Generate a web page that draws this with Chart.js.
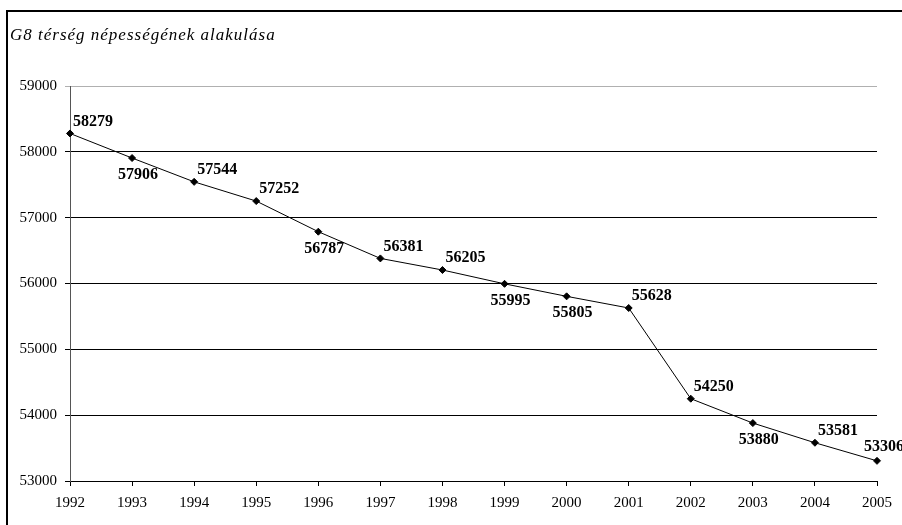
<!DOCTYPE html>
<html lang="hu">

<head>
    <meta charset="UTF-8">
    <script src="https://cdn.jsdelivr.net/npm/chart.js"></script>
    <title>G8 térség</title>
    <style>
        body { margin: 0; background: #fff; }
        #wrap { width: 902px; height: 525px; }
    </style>
</head>

<body>
    <div id="wrap"><canvas id="chart"></canvas></div>
</body>

<script>
    // data
    const years = ['1992', '1993', '1994', '1995', '1996', '1997', '1998', '1999', '2000', '2001', '2002', '2003', '2004', '2005'];
    const population = [58279, 57906, 57544, 57252, 56787, 56381, 56205, 55995, 55805, 55628, 54250, 53880, 53581, 53306];
    const yMin = 53000;
    const yMax = 59000;
    const yStep = 1000;
    const titleText = 'G8 térség népességének alakulása';

    // where each value label sits: a = above right, b = below, e = end
    const labelPos = ['a', 'b', 'a', 'a', 'b', 'a', 'a', 'b', 'b', 'a', 'a', 'b', 'a', 'e'];

    const serif = "'Liberation Serif', 'DejaVu Serif', serif";

    // frame lines + title (drawn by hand so the letter spacing can match)
    const frame = {
        id: 'frame',
        beforeDraw(chart) {
            let ctx = chart.ctx;
            ctx.save();
            ctx.fillStyle = '#000';
            ctx.fillRect(6, 10, 902, 2);
            ctx.fillRect(6, 10, 2, 525);
            ctx.font = 'italic 17px ' + serif;
            ctx.letterSpacing = '1px';
            ctx.textAlign = 'left';
            ctx.textBaseline = 'alphabetic';
            ctx.fillText(titleText, 10, 40);
            ctx.restore();
        }
    };

    const valueLabels = {
        id: 'valueLabels',
        afterDatasetsDraw(chart) {
            let ctx = chart.ctx;
            let meta = chart.getDatasetMeta(0);
            ctx.save();
            ctx.font = 'bold 16px ' + serif;
            ctx.fillStyle = '#000';
            ctx.textBaseline = 'middle';
            meta.data.forEach(function (pt, i) {
                let txt = String(population[i]);
                let pos = labelPos[i];
                if (pos == 'a') {
                    ctx.textAlign = 'left';
                    ctx.fillText(txt, pt.x + 3, pt.y - 12);
                } else if (pos == 'b') {
                    ctx.textAlign = 'center';
                    ctx.fillText(txt, pt.x + 6, pt.y + 17);
                } else {
                    ctx.textAlign = 'left';
                    ctx.fillText(txt, pt.x - 13, pt.y - 14);
                }
            });
            ctx.restore();
        }
    };

    let myChart = document.getElementById('chart').getContext('2d');
    let line = new Chart(myChart, {
        type: 'line',
        data: {
            labels: years,
            datasets: [{
                data: population,
                borderColor: '#000',
                borderWidth: 1,
                backgroundColor: '#000',
                pointStyle: 'rectRot',
                pointRadius: 3.5,
                pointBackgroundColor: '#000',
                pointBorderColor: '#000',
                tension: 0,
                fill: false
            }]
        },
        options: {
            responsive: true,
            maintainAspectRatio: false,
            animation: false,
            devicePixelRatio: 1,
            layout: {
                padding: { left: 10, right: 25, top: 86, bottom: 0 }
            },
            plugins: {
                legend: { display: false },
                tooltip: { enabled: false },
                title: { display: false }
            },
            scales: {
                x: {
                    type: 'category',
                    offset: false,
                    grid: {
                        drawOnChartArea: false,
                        drawTicks: true,
                        tickLength: 5,
                        color: '#000'
                    },
                    border: { color: '#000', width: 1 },
                    ticks: {
                        color: '#000',
                        font: { family: serif, size: 15 },
                        padding: 8,
                        maxRotation: 0,
                        autoSkip: false
                    },
                    afterFit: function (s) { s.height = 44; }
                },
                y: {
                    min: yMin,
                    max: yMax,
                    grid: {
                        color: function (c) { return c.tick && c.tick.value == yMax ? '#b0b0b0' : '#000'; },
                        tickLength: 5,
                        drawTicks: true
                    },
                    border: { color: '#555', width: 1 },
                    ticks: {
                        stepSize: yStep,
                        color: '#000',
                        font: { family: serif, size: 15 },
                        padding: 8,
                        callback: function (v) { return String(v); }
                    },
                    afterFit: function (s) { s.width = 60; }
                }
            }
        },
        plugins: [frame, valueLabels]
    });
</script>

</html>
